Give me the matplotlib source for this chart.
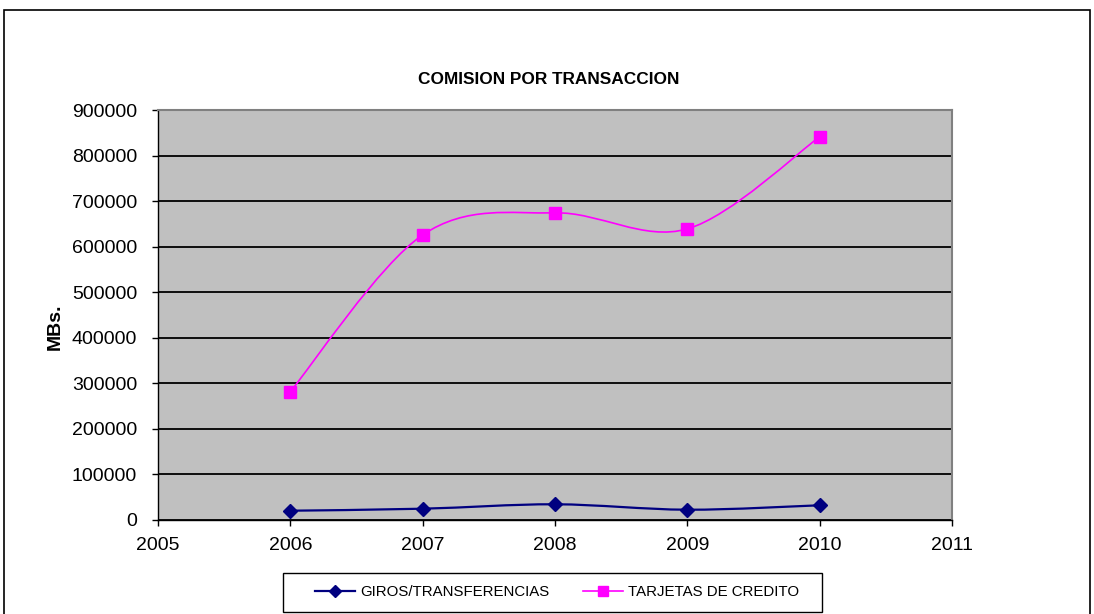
import matplotlib
matplotlib.use("Agg")
import matplotlib.pyplot as plt
from matplotlib.path import Path
from matplotlib.patches import PathPatch, Rectangle
from matplotlib.lines import Line2D
import numpy as np

plt.rcParams['font.family'] = ['Liberation Sans', 'DejaVu Sans']

years = [2006, 2007, 2008, 2009, 2010]
giros = [20400, 24800, 34500, 22600, 32300]
tarjetas = [282000, 625800, 674200, 639000, 841000]
series_names = ["GIROS/TRANSFERENCIAS", "TARJETAS DE CREDITO"]
title = "COMISION POR TRANSACCION"
ylabel = "MBs."

W, H = 1094, 614
fig = plt.figure(figsize=(W / 100, H / 100), dpi=100)

# outer chart frame
fig.patches.append(Rectangle((4 / W, -0.05), (1090 - 4) / W, 1 - 10 / H + 0.05,
                             transform=fig.transFigure, fill=False,
                             edgecolor='black', linewidth=1.2, zorder=0))

left, right, top, bottom = 158, 952, 110, 520
ax = fig.add_axes([left / W, 1 - bottom / H, (right - left) / W, (bottom - top) / H])
ax.set_facecolor('#C0C0C0')
ax.set_xlim(2005, 2011)
ax.set_ylim(0, 900000)
ax.set_xticks(range(2005, 2012))
ax.set_yticks(range(0, 900001, 100000))
ax.yaxis.grid(True, color='black', linewidth=1.3)
ax.set_axisbelow(True)
for s in ['top', 'right']:
    ax.spines[s].set_color('#808080')
    ax.spines[s].set_linewidth(1.5)
for s in ['left', 'bottom']:
    ax.spines[s].set_color('black')
    ax.spines[s].set_linewidth(1.0)
ax.tick_params(direction='out', length=4, width=1, labelsize=14, colors='black')
ax.tick_params(axis='y', pad=11)
ax.tick_params(axis='x', pad=8)

fig.text(55 / W, 1 - 327 / H, ylabel, rotation=90, ha='center', va='center',
         fontsize=14, fontweight='bold')
fig.text(549 / W, 1 - 79 / H, title, ha='center', va='center',
         fontsize=12.4, fontweight='bold')


def smooth_path(xs, ys):
    pts = np.column_stack([xs, ys]).astype(float)
    n = len(pts)
    verts = [pts[0]]
    codes = [Path.MOVETO]
    for i in range(n - 1):
        p0 = pts[i - 1] if i > 0 else pts[i]
        p1 = pts[i]
        p2 = pts[i + 1]
        p3 = pts[i + 2] if i + 2 < n else pts[i + 1]
        c1 = p1 + (p2 - p0) / 6.0
        c2 = p2 - (p3 - p1) / 6.0
        verts += [c1, c2, p2]
        codes += [Path.CURVE4] * 3
    return Path(verts, codes)


ax.add_patch(PathPatch(smooth_path(years, giros), fill=False, edgecolor='#000080',
                       linewidth=1.6, zorder=3))
ax.plot(years, giros, linestyle='none', marker='D', markersize=7,
        color='#000080', zorder=4)
ax.add_patch(PathPatch(smooth_path(years, tarjetas), fill=False, edgecolor='#FF00FF',
                       linewidth=1.2, zorder=3))
ax.plot(years, tarjetas, linestyle='none', marker='s', markersize=8.5,
        color='#FF00FF', zorder=4)

# legend frame
fig.patches.append(Rectangle((283 / W, 1 - 612 / H), (822 - 283) / W, (612 - 573) / H,
                             transform=fig.transFigure, fill=True, facecolor='white',
                             edgecolor='black', linewidth=1.0, zorder=1))
handles = [Line2D([], [], color='#000080', marker='D', markersize=6, linewidth=1.6),
           Line2D([], [], color='#FF00FF', marker='s', markersize=6.5, linewidth=1.2)]
leg = fig.legend(handles, series_names, loc='center',
                 bbox_to_anchor=(557 / W, 1 - 592.5 / H), ncol=2, fontsize=10.8,
                 frameon=False, handlelength=2.67, columnspacing=2.25,
                 handletextpad=0.33, borderpad=0.0, borderaxespad=0.0)
leg.set_zorder(2)

fig.savefig("out.png", dpi=100)
